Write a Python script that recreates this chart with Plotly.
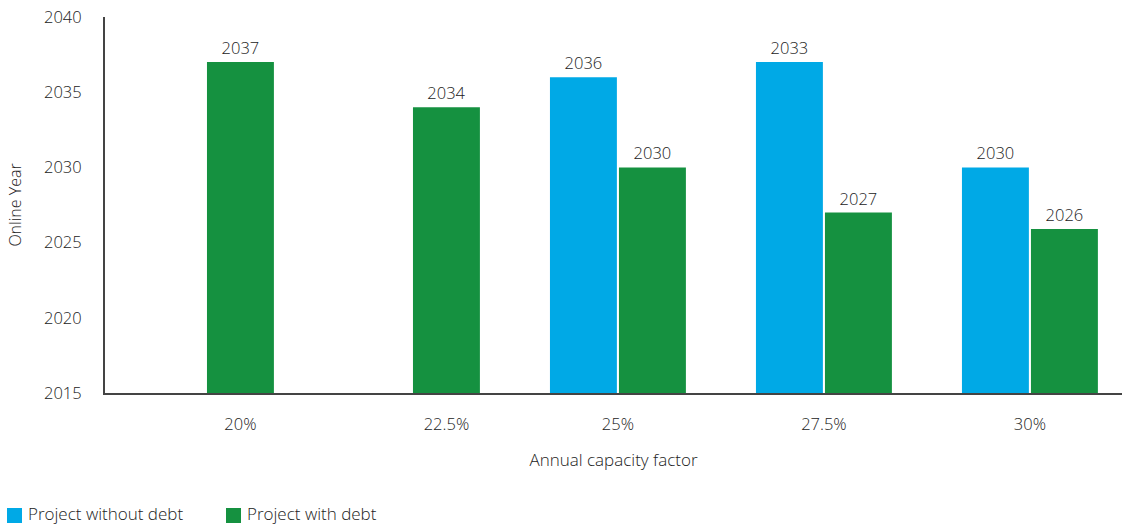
import plotly.graph_objects as go

categories = ["20%", "22.5%", "25%", "27.5%", "30%"]
without_debt = [None, None, 2036, 2037, 2030]
with_debt = [2037, 2034, 2030, 2027, 2025.9]
without_debt_labels = ["", "", "2036", "2033", "2030"]
with_debt_labels = ["2037", "2034", "2030", "2027", "2026"]
y_ticks = [2015, 2020, 2025, 2030, 2035, 2040]
series_names = ["Project without debt", "Project with debt"]

BLUE = "#00A9E6"
GREEN = "#159140"
TEXT = "#222222"
FONT = "Open Sans"
FS = 16.5
WT = 300

W, H = 1122, 525
ML, MR, MT, MB = 105, 0, 17, 132
PW, PH = W - ML - MR, H - MT - MB

def px(x):  # pixel x -> paper x
    return (x - ML) / PW

def py(y):  # pixel y -> paper y
    return (H - MB - y) / PH

def f(size=FS):
    return dict(family=FONT, size=size, color=TEXT, weight=WT)

bargap = 0.33
xs = list(range(len(categories)))
tick_pos = [i + ((1 - bargap) / 4 if without_debt[i] is None else 0) for i in xs]

fig = go.Figure()
fig.add_trace(go.Bar(
    x=xs, y=without_debt, name=series_names[0],
    marker=dict(color=BLUE, line=dict(width=0)),
    text=without_debt_labels, textposition="outside", cliponaxis=False,
    textfont=f(), showlegend=False,
))
fig.add_trace(go.Bar(
    x=xs, y=with_debt, name=series_names[1],
    marker=dict(color=GREEN, line=dict(width=0)),
    text=with_debt_labels, textposition="outside", cliponaxis=False,
    textfont=f(), showlegend=False,
))

# legend drawn as shapes + text
legend_items = [(series_names[0], BLUE, 7), (series_names[1], GREEN, 226)]
shapes, annotations = [], []
for name, color, x0 in legend_items:
    shapes.append(dict(type="rect", xref="paper", yref="paper",
                       x0=px(x0), x1=px(x0 + 15), y0=py(523), y1=py(508),
                       fillcolor=color, line=dict(width=0)))
    annotations.append(dict(text=name, xref="paper", yref="paper",
                            x=px(x0 + 19), y=py(513), xanchor="left", yanchor="middle",
                            showarrow=False, font=f(17)))

fig.update_layout(
    width=W, height=H,
    margin=dict(l=ML, r=MR, t=MT, b=MB),
    paper_bgcolor="white", plot_bgcolor="white",
    barmode="group", bargap=bargap, bargroupgap=0.03,
    font=f(),
    showlegend=False,
    shapes=shapes, annotations=annotations,
)
fig.update_xaxes(
    range=[-0.49, 4.447], tickvals=tick_pos, ticktext=categories,
    showline=True, linecolor="#444444", linewidth=2, ticks="", showgrid=False,
    zeroline=False, ticklabelstandoff=15,
    tickfont=f(),
    title=dict(text="Annual capacity factor", standoff=20, font=f(17)),
)
fig.update_yaxes(
    range=[2015, 2040], tickvals=y_ticks,
    showline=True, linecolor="#444444", linewidth=2, ticks="", showgrid=False,
    zeroline=False, ticklabelstandoff=18,
    tickfont=f(),
    title=dict(text="Online Year", standoff=18, font=f(16)),
)

fig.write_html("out.html", config={"displayModeBar": False},
               post_script="document.body.style.margin='0';document.body.style.overflow='hidden';")
